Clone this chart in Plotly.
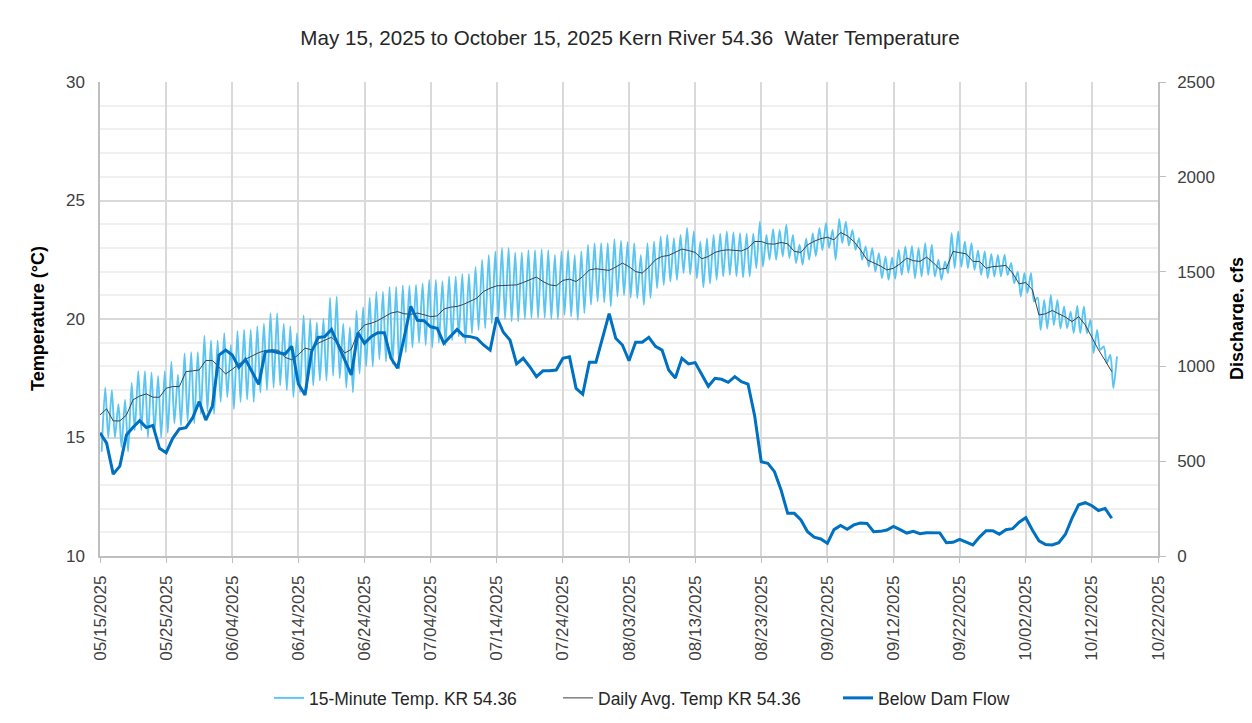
import pandas as pd
import plotly.graph_objects as go

start_date = "2025-05-15"
n_days = 154

# Below Dam Flow (cfs), daily
flow_cfs = [650, 595, 432, 474, 638, 679, 714, 677, 689, 568,
            545, 621, 670, 677, 728, 814, 717, 791, 1060, 1086,
            1060, 995, 1037, 972, 905, 1078, 1081, 1072, 1065, 1106,
            907, 849, 1078, 1153, 1157, 1195, 1113, 1034, 955, 1178,
            1122, 1157, 1178, 1178, 1043, 990, 1150, 1317, 1243, 1241,
            1209, 1201, 1122, 1160, 1195, 1160, 1157, 1148, 1113, 1086,
            1259, 1180, 1139, 1013, 1043, 998, 946, 977, 977, 981,
            1043, 1051, 884, 853, 1022, 1022, 1153, 1278, 1148, 1113,
            1030, 1127, 1127, 1153, 1106, 1086, 981, 939, 1043, 1013,
            1020, 955, 895, 937, 932, 916, 946, 919, 907, 740,
            497, 489, 445, 348, 225, 225, 190, 128, 99, 90,
            67, 139, 161, 141, 164, 174, 172, 128, 130, 137,
            156, 139, 121, 130, 118, 123, 123, 122, 70, 72,
            88, 74, 58, 100, 133, 133, 115, 139, 144, 178,
            202, 137, 80, 60, 58, 70, 115, 200, 270, 281,
            265, 240, 251, 199]

# Daily average temperature (°C)
daily_avg = [15.95, 16.21, 15.70, 15.70, 15.95, 16.59, 16.75, 16.84, 16.70, 16.70,
             17.08, 17.15, 17.15, 17.78, 17.81, 17.85, 18.25, 18.25, 17.97, 17.68,
             17.88, 18.11, 18.30, 18.44, 18.58, 18.67, 18.70, 18.68, 18.38, 18.28,
             18.49, 18.77, 18.70, 18.98, 19.12, 19.23, 18.98, 18.56, 18.72, 19.43,
             19.75, 19.82, 19.93, 20.10, 20.25, 20.31, 20.22, 20.20, 20.25, 20.18,
             20.10, 20.13, 20.42, 20.50, 20.53, 20.62, 20.74, 20.88, 21.16, 21.30,
             21.40, 21.41, 21.41, 21.44, 21.54, 21.65, 21.77, 21.58, 21.44, 21.40,
             21.63, 21.68, 21.58, 21.79, 22.07, 22.12, 22.10, 22.05, 22.19, 22.36,
             22.21, 22.00, 21.94, 22.19, 22.50, 22.64, 22.68, 22.81, 22.95, 22.89,
             22.81, 22.54, 22.64, 22.81, 22.89, 22.92, 22.89, 22.87, 22.99, 23.27,
             23.27, 23.17, 23.16, 23.23, 23.17, 22.85, 22.81, 23.13, 23.28, 23.39,
             23.45, 23.34, 23.65, 23.51, 23.27, 22.92, 22.50, 22.38, 22.24, 22.07,
             22.14, 22.33, 22.57, 22.46, 22.43, 22.61, 22.38, 22.10, 22.14, 22.85,
             22.81, 22.75, 22.43, 22.43, 22.14, 22.21, 22.23, 22.26, 21.94, 21.48,
             21.54, 21.23, 20.17, 20.22, 20.36, 20.22, 20.08, 19.89, 20.10, 19.75,
             19.23, 18.70, 18.25, 17.78]

# 15-minute record: daily minimum (early morning) and maximum (evening), °C
daily_min = [14.4, 15.0, 15.0, 14.6, 14.4, 15.3, 15.3, 15.0, 15.2, 15.0,
             15.2, 15.6, 15.5, 15.7, 15.6, 16.0, 16.1, 16.0, 16.5, 16.7,
             16.2, 16.5, 16.6, 16.5, 16.9, 17.0, 17.1, 17.2, 17.0, 16.7,
             16.9, 17.0, 17.2, 17.4, 17.4, 17.6, 17.5, 17.1, 16.9, 17.7,
             18.0, 18.0, 18.3, 18.2, 18.1, 17.9, 18.6, 18.8, 19.0, 18.9,
             18.8, 19.0, 18.9, 19.1, 19.26, 18.98, 19.4, 19.54, 19.6, 19.82,
             20.04, 20.0, 19.9, 19.9, 20.0, 20.04, 20.04, 20.04, 20.0, 20.0,
             20.18, 20.1, 19.96, 20.25, 20.6, 20.74, 20.7, 20.53, 20.95, 21.0,
             20.9, 20.88, 20.6, 20.88, 21.3, 21.44, 21.58, 21.65, 21.94, 21.88,
             21.72, 21.34, 21.5, 21.65, 21.8, 21.86, 21.8, 21.75, 21.8, 22.14,
             22.21, 22.5, 22.5, 22.64, 22.57, 22.36, 22.29, 22.5, 22.65, 22.9,
             23.0, 22.5, 23.2, 23.1, 22.92, 22.5, 22.21, 22.0, 21.72, 21.65,
             21.7, 21.86, 21.95, 21.72, 21.79, 21.86, 21.79, 21.65, 21.94, 22.14,
             22.2, 22.14, 22.07, 21.86, 21.72, 21.79, 21.8, 21.85, 21.51, 20.95,
             21.1, 20.74, 19.54, 19.6, 19.75, 19.6, 19.61, 19.4, 19.4, 19.4,
             18.56, 18.7, 18.14, 17.08]

daily_max = [17.1, 17.0, 16.4, 16.6, 17.3, 17.8, 17.8, 17.75, 17.6, 17.8,
             18.2, 17.65, 18.55, 18.6, 18.6, 19.3, 19.1, 19.1, 19.4, 18.9,
             19.5, 19.55, 19.55, 19.7, 19.8, 20.25, 20.25, 19.8, 19.7, 19.4,
             20.15, 20.0, 19.85, 20.0, 20.9, 20.95, 19.8, 19.65, 20.35, 20.5,
             20.9, 21.15, 21.15, 21.35, 21.35, 21.42, 21.4, 21.44, 21.5, 21.65,
             21.65, 21.6, 21.8, 21.8, 21.9, 21.9, 22.2, 22.5, 22.7, 22.85,
             23.0, 23.0, 22.8, 22.8, 22.9, 22.9, 22.95, 22.9, 22.7, 22.85,
             22.9, 22.7, 22.85, 23.13, 23.2, 23.2, 23.2, 23.37, 23.3, 23.25,
             23.2, 22.7, 23.2, 23.27, 23.48, 23.55, 23.41, 23.55, 23.84, 23.69,
             23.27, 23.4, 23.55, 23.6, 23.69, 23.65, 23.62, 23.6, 23.6, 24.11,
             23.55, 23.79, 23.76, 23.98, 23.55, 23.13, 23.4, 23.62, 23.84, 24.05,
             23.76, 24.22, 24.11, 23.76, 23.41, 23.06, 22.99, 22.78, 22.64, 22.6,
             22.92, 23.06, 23.08, 23.0, 23.2, 23.13, 22.5, 22.43, 23.62, 23.69,
             23.27, 23.2, 22.89, 22.85, 22.75, 22.7, 22.71, 22.36, 22.0, 21.94,
             21.94, 20.9, 20.8, 21.02, 20.8, 20.53, 20.31, 20.56, 20.53, 19.96,
             19.54, 18.84, 18.49, 18.42]

x_range = ["2025-05-15", "2025-10-22"]
title_text = "May 15, 2025 to October 15, 2025 Kern River 54.36  Water Temperature"
names = ["15-Minute Temp. KR 54.36", "Daily Avg. Temp KR 54.36", "Below Dam Flow"]

days = pd.date_range(start_date, periods=n_days, freq="D")
x15, y15 = [], []
for d, lo, hi in zip(days, daily_min, daily_max):
    x15 += [d + pd.Timedelta(hours=6), d + pd.Timedelta(hours=19)]
    y15 += [lo, hi]

fig = go.Figure()
fig.add_trace(go.Scatter(x=x15, y=y15, mode="lines", name=names[0], legend="legend",
                         line=dict(color="#5BC5F2", width=1.9, shape="spline", smoothing=0.7)))
fig.add_trace(go.Scatter(x=days, y=daily_avg, mode="lines", name=names[1], legend="legend2",
                         line=dict(color="#404040", width=1)))
fig.add_trace(go.Scatter(x=days, y=flow_cfs, mode="lines", name=names[2], yaxis="y2",
                         legend="legend3", line=dict(color="#0070C0", width=3)))

# The page has an 8px body margin; the figure is sized to fill the rest of the window.
W, H = 1244, 715
PL, PR, PT, PB = 100, 1158, 82, 556          # plot area in page pixels
OFF = 8
pw, ph = PR - PL, PB - PT


def px(xp):
    return (xp - PL) / pw


def py(yp):
    return (PB - yp) / ph


tick_font = dict(family="Liberation Sans, Arial, sans-serif", size=17, color="#404040")
leg_font = dict(family="Liberation Sans, Arial, sans-serif", size=17.5, color="#262626")


def leg(text_start):
    return dict(orientation="h", x=px(text_start - 40), xanchor="left", y=py(698),
                yanchor="middle", font=leg_font, bgcolor="rgba(0,0,0,0)", borderwidth=0)


fig.update_layout(
    width=W, height=H,
    paper_bgcolor="white", plot_bgcolor="white",
    margin=dict(l=PL - OFF, r=W - (PR - OFF), t=PT - OFF, b=H - (PB - OFF), autoexpand=False),
    title=dict(text=title_text, x=0.5, xanchor="center", y=1 - (38 - OFF) / H, yanchor="middle",
               font=dict(family="Liberation Sans, Arial, sans-serif", size=20.6, color="#262626")),
    showlegend=True,
    legend=leg(309), legend2=leg(598), legend3=leg(878),
    xaxis=dict(type="date", range=x_range, tick0=start_date, dtick=864000000,
               tickformat="%m/%d/%Y", tickangle=-90, tickfont=tick_font, automargin=False,
               showgrid=True, gridcolor="#d9d9d9", gridwidth=1.5,
               showline=True, linecolor="#bfbfbf", linewidth=1.5,
               ticks="outside", ticklen=5, tickcolor="#bfbfbf", zeroline=False,
               ticklabelstandoff=6),
    yaxis=dict(range=[10, 30], dtick=5, tickfont=tick_font, automargin=False,
               showgrid=True, gridcolor="#d9d9d9", gridwidth=1.5,
               minor=dict(dtick=1, showgrid=True, gridcolor="#f0f0f0", gridwidth=1.5),
               showline=True, linecolor="#bfbfbf", linewidth=1.5, zeroline=False,
               ticks="", ticklabelstandoff=10),
    yaxis2=dict(range=[0, 2500], dtick=500, overlaying="y", side="right",
                tickfont=tick_font, showgrid=False, zeroline=False, automargin=False,
                showline=True, linecolor="#bfbfbf", linewidth=1.5,
                ticks="outside", ticklen=6, tickcolor="#bfbfbf", ticklabelstandoff=8),
    annotations=[
        dict(text="<b>Temperature (°C)</b>", xref="paper", yref="paper",
             x=px(38), y=0.5, xanchor="center", yanchor="middle", textangle=-90, showarrow=False,
             font=dict(family="Liberation Sans, Arial, sans-serif", size=18, color="#000000")),
        dict(text="<b>Discharge, cfs</b>", xref="paper", yref="paper",
             x=px(1237), y=0.5, xanchor="center", yanchor="middle", textangle=-90, showarrow=False,
             font=dict(family="Liberation Sans, Arial, sans-serif", size=18, color="#000000")),
    ],
)

fig.write_html("out.html")
